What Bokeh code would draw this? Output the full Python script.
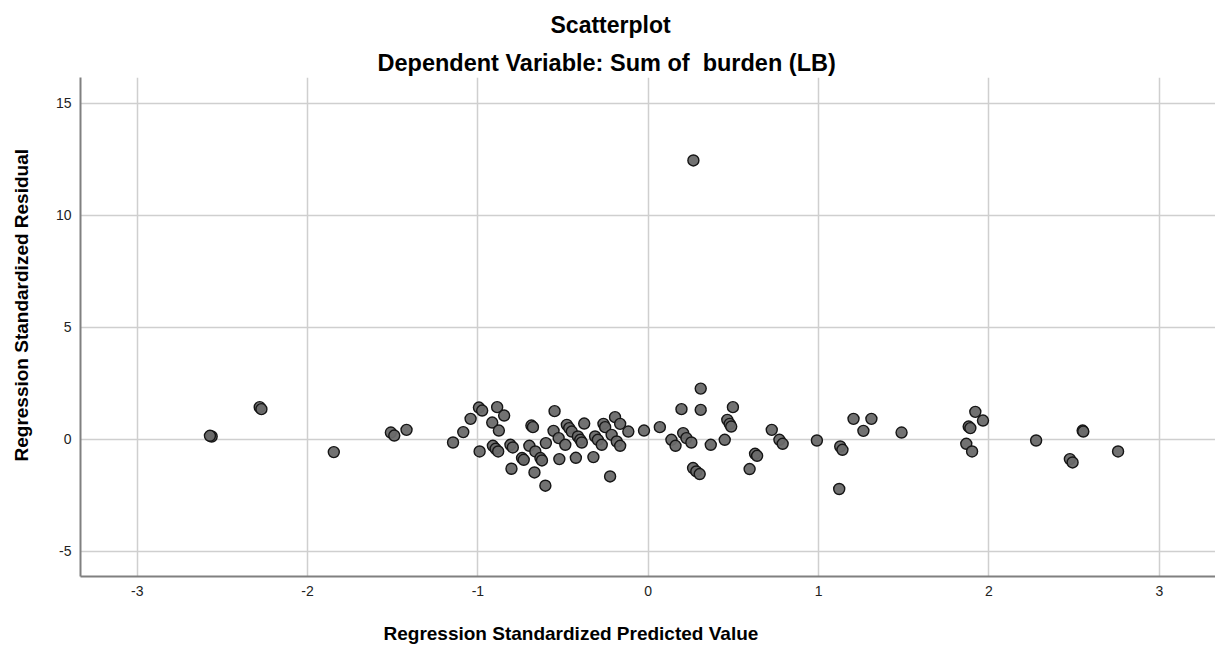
import math
from bokeh.plotting import figure
from bokeh.models import Range1d, FixedTicker, Title, ColumnDataSource
from bokeh.embed import file_html
from bokeh.resources import INLINE

# Regression standardized predicted value (x) and residual (y)
pred = [-2.563, -2.573, -2.281, -2.271, -1.846, -1.511, -1.491, -1.419, -1.146, -1.086,
        -1.043, -0.994, -0.975, -0.887, -0.846, -0.916, -0.877, -0.990, -0.912, -0.896,
        -0.881, -0.809, -0.795, -0.803, -0.686, -0.677, -0.741, -0.731, -0.698, -0.663,
        -0.633, -0.624, -0.668, -0.601, -0.604, -0.550, -0.556, -0.526, -0.487, -0.522,
        -0.478, -0.464, -0.449, -0.413, -0.399, -0.390, -0.425, -0.376, -0.312, -0.296,
        -0.273, -0.322, -0.263, -0.253, -0.195, -0.165, -0.117, -0.215, -0.185, -0.165,
        -0.224, -0.025, 0.068, 0.136, 0.160, 0.205, 0.224, 0.253, 0.195, 0.308,
        0.308, 0.263, 0.282, 0.302, 0.367, 0.449, 0.464, 0.478, 0.487, 0.497,
        0.595, 0.627, 0.639, 0.725, 0.770, 0.789, 0.990, 1.127, 1.140, 1.121,
        1.205, 1.310, 1.263, 1.487, 1.920, 1.965, 1.881, 1.891, 1.867, 1.901,
        2.277, 2.550, 2.554, 2.475, 2.491, 2.758, 0.265]
resid = [0.125, 0.156, 1.434, 1.345, -0.570, 0.303, 0.169, 0.423, -0.142, 0.321,
         0.913, 1.416, 1.282, 1.434, 1.060, 0.748, 0.392, -0.543, -0.289, -0.423,
         -0.543, -0.245, -0.365, -1.313, 0.614, 0.543, -0.837, -0.913, -0.289, -0.543,
         -0.837, -0.944, -1.478, -0.169, -2.070, 1.256, 0.378, 0.053, -0.245, -0.882,
         0.646, 0.499, 0.347, 0.125, -0.022, -0.142, -0.824, 0.703, 0.125, -0.022,
         -0.245, -0.793, 0.690, 0.543, 0.988, 0.690, 0.347, 0.200, -0.098, -0.289,
         -1.656, 0.392, 0.543, -0.022, -0.289, 0.276, 0.053, -0.142, 1.345, 2.262,
         1.313, -1.282, -1.434, -1.549, -0.245, -0.022, 0.868, 0.690, 0.570, 1.434,
         -1.327, -0.646, -0.735, 0.423, -0.022, -0.200, -0.053, -0.321, -0.467, -2.217,
         0.913, 0.913, 0.378, 0.303, 1.224, 0.837, 0.570, 0.499, -0.200, -0.543,
         -0.053, 0.392, 0.347, -0.882, -1.033, -0.543, 12.44]

x_ticks = [-3, -2, -1, 0, 1, 2, 3]
y_ticks = [-5, 0, 5, 10, 15]

title_text = "Scatterplot"
subtitle_text = "Dependent Variable: Sum of \u00a0burden (LB)"
x_label = "Regression Standardized Predicted Value"
y_label = "Regression Standardized Residual"

FONT = "Liberation Sans"

p = figure(width=1215, height=644, output_backend="svg", toolbar_location=None,
           x_range=Range1d(-3.333, 3.33), y_range=Range1d(-6.12, 16.14),
           min_border_left=80, min_border_right=0, min_border_top=77, min_border_bottom=67)

p.title.text = title_text
p.title.align = "left"
p.title.offset = 470
p.title.text_font = FONT
p.title.text_font_size = "23px"
p.title.text_font_style = "bold"
p.title.text_color = "#000000"
p.title.standoff = 15

sub = Title(text=subtitle_text, align="left", offset=297, text_font=FONT, text_font_size="23.5px",
            text_font_style="bold", text_color="#000000", standoff=4)
p.add_layout(sub, "above")

# a blank second line keeps the rotated label clear of the tick labels
yl = Title(text=y_label + "\n", align="left", offset=115, text_font=FONT, text_font_size="19px",
           text_font_style="bold", text_color="#000000", standoff=0,
           vertical_align="bottom", text_line_height=1.0)
p.add_layout(yl, "left")

# a blank first line pushes the label down towards the page bottom
xl = Title(text="\n" + x_label, align="left", offset=303, text_font=FONT, text_font_size="19px",
           text_font_style="bold", text_color="#000000", standoff=0,
           vertical_align="bottom", text_line_height=1.1)
p.add_layout(xl, "below")

p.outline_line_color = None
p.background_fill_color = "white"
p.border_fill_color = "white"

for ax in (p.xaxis[0], p.yaxis[0]):
    ax.major_tick_in = 0
    ax.major_tick_out = 0
    ax.minor_tick_in = 0
    ax.minor_tick_out = 0
    ax.axis_line_color = "#808080"
    ax.axis_line_width = 2
    ax.major_label_text_font = FONT
    ax.major_label_text_font_size = "14px"
    ax.major_label_text_color = "#222222"
    ax.major_label_standoff = 9

p.xaxis[0].ticker = FixedTicker(ticks=x_ticks)
p.yaxis[0].ticker = FixedTicker(ticks=y_ticks)
p.xaxis[0].major_label_overrides = {t: str(t) for t in x_ticks}
p.yaxis[0].major_label_overrides = {t: str(t) for t in y_ticks}

p.xgrid.ticker = FixedTicker(ticks=x_ticks)
p.ygrid.ticker = FixedTicker(ticks=y_ticks)
p.grid.grid_line_color = "#cfcfcf"
p.grid.grid_line_width = 1.5

src = ColumnDataSource(data=dict(x=pred, y=resid))
p.scatter("x", "y", source=src, size=11, fill_color="#6a6a6a", fill_alpha=0.95,
          line_color="#151515", line_width=1.4)

open("out.html", "w").write(file_html(p, INLINE))
